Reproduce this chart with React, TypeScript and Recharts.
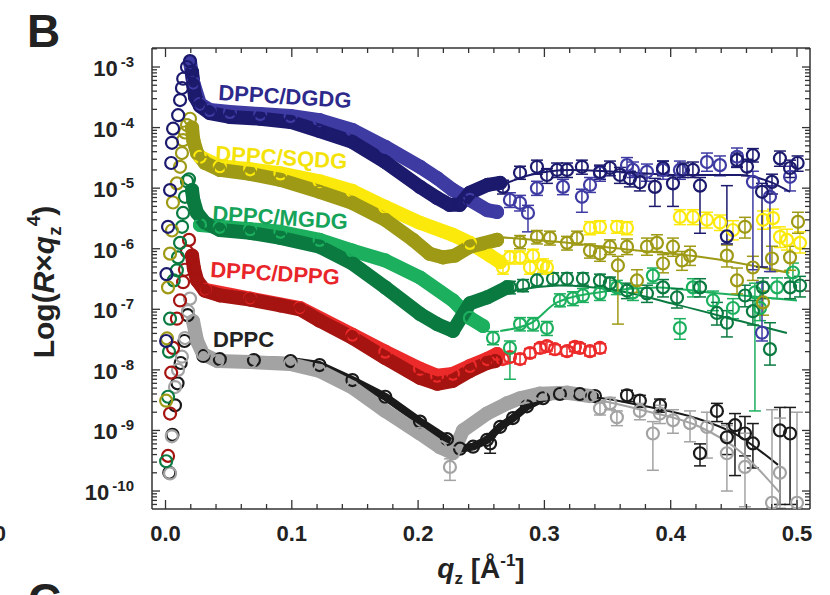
import React from "react";
import { ComposedChart, XAxis, YAxis, Line, Scatter, ErrorBar } from "recharts";

type Pt = [number, number];
type EPt = [number, number, number, number]; // q, R, low, high

const FONT = "'Liberation Sans', Arial, Helvetica, sans-serif";
const AX = "#333";

const qTicks = [0, 0.02, 0.04, 0.06, 0.08, 0.1, 0.12, 0.14, 0.16, 0.18, 0.2, 0.22, 0.24, 0.26, 0.28, 0.3, 0.32, 0.34, 0.36, 0.38, 0.4, 0.42, 0.44, 0.46, 0.48, 0.5];
const decades = [1e-11, 1e-10, 1e-9, 1e-8, 1e-7, 1e-6, 1e-5, 1e-4, 1e-3];
const Q_DOMAIN: [number, number] = [-0.0107, 0.5103];
const R_DOMAIN: [number, number] = [5.05e-11, 2.06e-3];

// ---------- DPPC ----------
const dppcRiseA: Pt[] = [[0.003, 2.0e-10], [0.0055, 8.5e-10], [0.0075, 2.6e-9], [0.0095, 6.0e-9], [0.012, 1.3e-8], [0.015, 3.0e-8], [0.0175, 8.0e-8]];
const dppcBandA: Pt[] = [[0.03, 1.7e-8], [0.043, 1.5e-8], [0.07, 1.45e-8], [0.099, 1.4e-8], [0.122, 1.2e-8], [0.148, 6.8e-9], [0.174, 3.6e-9], [0.2015, 1.4e-9], [0.2229, 7.2e-10], [0.2332, 5.0e-10], [0.2435, 5.4e-10], [0.2546, 7.0e-10], [0.265, 1.15e-9], [0.2751, 1.6e-9], [0.2862, 2.5e-9], [0.2989, 3.4e-9], [0.3123, 4.0e-9], [0.3281, 4.0e-9], [0.34, 3.7e-9]];
const dppcTailA: EPt[] = [[0.257, 6.1e-10, 4.2e-10, 7.8e-10], [0.3654, 3.8e-9, 3.0e-9, 4.6e-9], [0.3756, 3.1e-9, 2.4e-9, 3.8e-9], [0.3915, 2.6e-9, 2.0e-9, 3.3e-9], [0.4232, 4.2e-10, 2.6e-10, 6.0e-10], [0.4366, 2.1e-9, 1.4e-9, 2.8e-9], [0.4445, 7.7e-10, 4.0e-10, 1.3e-9], [0.4509, 1.22e-9, 1.8e-10, 1.9e-9], [0.4588, 8.9e-10, 3.8e-10, 1.7e-9], [0.4651, 6.1e-10, 2.4e-10, 1.3e-9], [0.4865, 1.0e-9, 6.0e-11, 2.4e-9], [0.4945, 8.9e-10, 6.0e-11, 2.4e-9]];
const dppcFitA: Pt[] = [[0.3, 3.7e-9], [0.34, 3.5e-9], [0.38, 2.5e-9], [0.42, 1.6e-9], [0.45, 9.0e-10], [0.485, 2.7e-10]];
const dppcRiseB: Pt[] = [[0.0036, 1.95e-10], [0.005, 8.0e-10], [0.0075, 5.2e-9], [0.0099, 1.0e-8], [0.013, 1.65e-8], [0.0154, 3.35e-8], [0.0178, 9.3e-8], [0.0194, 1.5e-7]];
const dppcBandB: Pt[] = [[0.0218, 6.4e-8], [0.025, 3.0e-8], [0.0297, 1.83e-8], [0.041, 1.4e-8], [0.067, 1.35e-8], [0.0986, 1.25e-8], [0.122, 9.6e-9], [0.148, 5.1e-9], [0.174, 2.1e-9], [0.2015, 8.9e-10], [0.2173, 5.3e-10], [0.2276, 4.2e-10], [0.2355, 1.0e-9], [0.2546, 1.9e-9], [0.2704, 2.8e-9], [0.2807, 3.4e-9], [0.2965, 4.05e-9], [0.3179, 4.2e-9], [0.3361, 3.7e-9]];
const dppcTailB: EPt[] = [[0.2252, 2.5e-10, 1.5e-10, 3.4e-10], [0.344, 2.3e-9, 1.8e-9, 2.9e-9], [0.352, 2.8e-9, 2.2e-9, 3.5e-9], [0.3574, 1.65e-9, 1.2e-9, 2.1e-9], [0.3756, 2.1e-9, 1.5e-9, 2.8e-9], [0.3859, 8.9e-10, 2.2e-10, 1.4e-9], [0.3915, 1.9e-9, 1.3e-9, 2.6e-9], [0.4018, 1.47e-9, 9.0e-10, 2.2e-9], [0.4153, 1.32e-9, 6.5e-10, 2.1e-9], [0.4287, 1.14e-9, 3.5e-10, 2.0e-9], [0.4445, 4.2e-10, 1.0e-10, 1.2e-9], [0.4588, 2.5e-10, 5.5e-11, 9.0e-10], [0.4802, 6.4e-11, 5.2e-11, 2.2e-9], [0.4865, 2.0e-10, 5.2e-11, 1.6e-9], [0.5, 6.4e-11, 5.2e-11, 2.0e-9]];
const dppcFitB: Pt[] = [[0.3, 3.9e-9], [0.34, 3.2e-9], [0.38, 2.1e-9], [0.4232, 1.14e-9], [0.455, 4.5e-10], [0.4865, 9.3e-11]];

// ---------- DPPC/DPPG ----------
const dppgRiseA: Pt[] = [[0.002, 3.8e-10], [0.0036, 1.9e-9], [0.0045, 9.0e-9], [0.006, 2.3e-8], [0.009, 7.0e-8], [0.0115, 1.4e-7], [0.0139, 2.8e-7], [0.0154, 4.5e-7], [0.017, 9.0e-7], [0.0186, 1.4e-6]];
const dppgBandA: Pt[] = [[0.021, 7.7e-7], [0.0225, 4.7e-7], [0.025, 3.0e-7], [0.031, 2.04e-7], [0.043, 1.7e-7], [0.067, 1.45e-7], [0.091, 1.16e-7], [0.1065, 1.0e-7], [0.122, 6.5e-8], [0.148, 3.4e-8], [0.174, 1.57e-8], [0.2015, 7.4e-9], [0.215, 5.9e-9], [0.2276, 6.6e-9], [0.241, 9.6e-9], [0.2546, 1.3e-8], [0.261, 1.4e-8]];
const dppgBandB: Pt[] = [[0.0313, 2.1e-7], [0.067, 1.5e-7], [0.1065, 1.05e-7], [0.148, 3.8e-8], [0.174, 2.0e-8], [0.2015, 1.04e-8], [0.215, 8.0e-9], [0.2276, 8.6e-9], [0.241, 1.16e-8], [0.2546, 1.51e-8], [0.2625, 1.83e-8]];
const dppgTailB: EPt[] = [[0.267, 1.51e-8, 1.25e-8, 1.8e-8], [0.2727, 1.63e-8, 1.35e-8, 1.95e-8], [0.2807, 1.51e-8, 1.25e-8, 1.8e-8], [0.2886, 1.9e-8, 1.6e-8, 2.25e-8], [0.2965, 2.3e-8, 1.9e-8, 2.7e-8], [0.302, 2.47e-8, 2.05e-8, 2.9e-8], [0.3083, 2.2e-8, 1.8e-8, 2.6e-8], [0.3179, 2.04e-8, 1.7e-8, 2.4e-8], [0.3242, 2.4e-8, 2.0e-8, 2.85e-8], [0.3281, 2.3e-8, 1.9e-8, 2.7e-8], [0.3361, 2.04e-8, 1.7e-8, 2.4e-8], [0.344, 2.3e-8, 1.9e-8, 2.7e-8]];

// ---------- DPPC/MGDG ----------
const mgdgRiseA: Pt[] = [[0.0005, 3.1e-10], [0.002, 3.6e-9], [0.0028, 2.0e-8], [0.0036, 7.0e-8], [0.0065, 3.0e-7], [0.009, 4.4e-7], [0.0099, 7.2e-7], [0.0115, 1.25e-6], [0.0131, 2.3e-6], [0.0139, 3.9e-6], [0.0154, 7.2e-6], [0.017, 1.3e-5], [0.0186, 1.4e-5]];
const mgdgBandA: Pt[] = [[0.021, 9.3e-6], [0.022, 6.4e-6], [0.025, 3.9e-6], [0.0313, 2.68e-6], [0.043, 2.04e-6], [0.067, 1.83e-6], [0.091, 1.51e-6], [0.122, 1.08e-6], [0.148, 5.7e-7], [0.174, 2.3e-7], [0.2015, 8.4e-8], [0.215, 5.7e-8], [0.2276, 4.4e-8], [0.241, 1.25e-7], [0.2546, 1.57e-7], [0.2704, 2.3e-7]];
const mgdgTailA: EPt[] = [[0.2727, 2.3e-7, 1.8e-7, 2.9e-7], [0.2831, 2.47e-7, 1.95e-7, 3.1e-7], [0.2941, 3.0e-7, 2.4e-7, 3.8e-7], [0.3068, 3.2e-7, 2.5e-7, 4.0e-7], [0.3179, 3.2e-7, 2.5e-7, 4.0e-7], [0.3305, 3.2e-7, 2.5e-7, 4.0e-7], [0.344, 3.0e-7, 2.3e-7, 3.8e-7], [0.3519, 2.68e-7, 2.0e-7, 3.4e-7], [0.3654, 2.04e-7, 1.5e-7, 2.7e-7], [0.3812, 1.83e-7, 1.3e-7, 2.5e-7], [0.3939, 2.3e-7, 1.6e-7, 3.1e-7], [0.405, 1.57e-7, 1.05e-7, 2.2e-7], [0.4232, 2.3e-7, 1.6e-7, 3.2e-7], [0.4366, 8.7e-8, 5.5e-8, 1.3e-7], [0.4445, 6.0e-8, 3.5e-8, 9.5e-8], [0.4588, 1.69e-7, 1.1e-7, 2.5e-7], [0.4651, 9.3e-8, 5.5e-8, 1.4e-7], [0.4731, 2.3e-7, 1.5e-7, 3.3e-7], [0.4786, 2.2e-8, 1.2e-8, 6.0e-8], [0.4945, 2.3e-7, 1.5e-7, 3.3e-7], [0.5024, 2.47e-7, 1.6e-7, 3.5e-7]];
const mgdgFitA: Pt[] = [[0.265, 1.83e-7], [0.312, 2.47e-7], [0.357, 2.04e-7], [0.407, 1.16e-7], [0.455, 6.4e-8], [0.492, 4.05e-8]];
const mgdgBandB: Pt[] = [[0.0273, 2.47e-6], [0.043, 2.3e-6], [0.067, 2.1e-6], [0.091, 1.9e-6], [0.122, 1.4e-6], [0.148, 9.3e-7], [0.174, 6.4e-7], [0.2015, 3.35e-7], [0.2276, 1.4e-7], [0.241, 7.2e-8], [0.2514, 5.3e-8]];
const mgdgTailB: EPt[] = [[0.2593, 3.35e-8, 2.6e-8, 4.3e-8], [0.2727, 2.3e-8, 7.0e-9, 3.0e-8], [0.2807, 5.7e-8, 4.4e-8, 7.3e-8], [0.291, 5.7e-8, 4.4e-8, 7.3e-8], [0.302, 4.9e-8, 3.7e-8, 6.3e-8], [0.3123, 1.4e-7, 1.1e-7, 1.8e-7], [0.3226, 1.51e-7, 1.15e-7, 1.95e-7], [0.3305, 1.69e-7, 1.3e-7, 2.2e-7], [0.344, 1.83e-7, 1.4e-7, 2.4e-7], [0.3574, 2.3e-7, 1.75e-7, 3.0e-7], [0.3701, 1.9e-7, 1.4e-7, 2.5e-7], [0.3859, 3.6e-7, 2.7e-7, 4.8e-7], [0.4073, 4.9e-8, 3.2e-8, 7.0e-8], [0.4176, 2.3e-7, 1.6e-7, 3.2e-7], [0.4335, 1.4e-7, 9.5e-8, 2.0e-7], [0.4493, 1.05e-7, 7.0e-8, 1.5e-7], [0.4667, 1.9e-7, 2.1e-9, 2.7e-7], [0.4707, 1.05e-7, 6.5e-8, 1.6e-7], [0.4842, 2.3e-7, 1.5e-7, 3.3e-7], [0.4968, 4.05e-7, 2.8e-7, 5.8e-7]];
const mgdgFitB: Pt[] = [[0.265, 4.4e-8], [0.29, 6.0e-8], [0.31, 1.3e-7], [0.35, 2.0e-7], [0.39, 2.3e-7], [0.43, 1.9e-7], [0.47, 1.6e-7], [0.5, 1.4e-7]];

// ---------- DPPC/SQDG ----------
const sqdgRiseA: Pt[] = [[0.0005, 3.1e-9], [0.0012, 3.3e-8], [0.002, 2.3e-7], [0.0036, 8.3e-7], [0.0051, 2.0e-6], [0.0059, 5.8e-6], [0.009, 1.2e-5], [0.0115, 2.25e-5], [0.013, 3.8e-5], [0.0139, 6.2e-5], [0.0154, 8.3e-5], [0.017, 1.1e-4], [0.0194, 1.4e-4]];
const sqdgBandA: Pt[] = [[0.021, 1.0e-4], [0.022, 6.2e-5], [0.025, 3.8e-5], [0.0313, 2.6e-5], [0.043, 2.0e-5], [0.067, 1.72e-5], [0.091, 1.37e-5], [0.122, 8.7e-6], [0.148, 5.7e-6], [0.174, 3.0e-6], [0.196, 1.4e-6], [0.209, 8.3e-7], [0.2197, 7.2e-7], [0.229, 7.7e-7], [0.241, 1.08e-6], [0.2625, 1.4e-6]];
const sqdgTailA: EPt[] = [[0.2807, 1.3e-6, 1.0e-6, 1.65e-6], [0.2941, 1.57e-6, 1.2e-6, 2.0e-6], [0.3044, 1.51e-6, 1.15e-6, 1.95e-6], [0.3179, 1.25e-6, 9.5e-7, 1.6e-6], [0.3258, 1.51e-6, 1.15e-6, 1.95e-6], [0.3361, 9.3e-7, 7.0e-7, 1.2e-6], [0.344, 8.3e-7, 6.2e-7, 1.1e-6], [0.3519, 1.08e-6, 8.0e-7, 1.4e-6], [0.3582, 5.3e-7, 5.7e-8, 7.5e-7], [0.3654, 1.08e-6, 8.0e-7, 1.45e-6], [0.3733, 3.0e-7, 1.9e-7, 4.5e-7], [0.3812, 1.08e-6, 7.8e-7, 1.5e-6], [0.3891, 1.25e-6, 9.0e-7, 1.7e-6], [0.3939, 5.7e-7, 4.0e-7, 8.0e-7], [0.4018, 1.08e-6, 7.5e-7, 1.5e-6], [0.4089, 6.4e-7, 4.4e-7, 9.0e-7], [0.4153, 7.7e-7, 5.3e-7, 1.1e-6], [0.4445, 7.7e-7, 5.0e-7, 1.15e-6], [0.4525, 3.0e-7, 1.8e-7, 4.8e-7], [0.4588, 2.3e-6, 1.5e-6, 3.3e-6], [0.4651, 4.9e-7, 3.0e-7, 7.5e-7], [0.4731, 1.3e-7, 8.0e-8, 2.0e-7], [0.4802, 6.9e-7, 4.2e-7, 1.1e-6], [0.4945, 7.2e-7, 4.4e-7, 1.1e-6], [0.5008, 2.78e-6, 1.8e-6, 4.0e-6]];
const sqdgFitA: Pt[] = [[0.265, 1.55e-6], [0.31, 1.3e-6], [0.37, 9.5e-7], [0.42, 7.5e-7], [0.46, 5.5e-7], [0.494, 4.0e-7]];
const sqdgBandB: Pt[] = [[0.0273, 3.3e-5], [0.043, 2.3e-5], [0.067, 2.05e-5], [0.091, 1.75e-5], [0.122, 1.3e-5], [0.148, 9.0e-6], [0.174, 4.9e-6], [0.2015, 2.68e-6], [0.2276, 1.69e-6], [0.241, 1.25e-6], [0.257, 7.7e-7], [0.265, 6.0e-7]];
const sqdgTailB: EPt[] = [[0.2672, 4.9e-7, 3.8e-7, 6.3e-7], [0.2727, 7.2e-7, 5.6e-7, 9.2e-7], [0.2807, 7.2e-7, 5.6e-7, 9.2e-7], [0.2886, 4.9e-7, 3.8e-7, 6.3e-7], [0.291, 7.7e-7, 6.0e-7, 9.8e-7], [0.2989, 5.3e-7, 4.1e-7, 6.8e-7], [0.302, 4.9e-7, 3.8e-7, 6.3e-7], [0.3361, 2.2e-6, 1.7e-6, 2.8e-6], [0.344, 2.3e-6, 1.8e-6, 2.9e-6], [0.3574, 2.3e-6, 1.8e-6, 2.9e-6], [0.3654, 2.2e-6, 1.7e-6, 2.8e-6], [0.4073, 3.35e-6, 2.5e-6, 4.4e-6], [0.4176, 3.35e-6, 2.5e-6, 4.4e-6], [0.4287, 3.0e-6, 2.2e-6, 4.0e-6], [0.439, 2.7e-6, 2.0e-6, 3.6e-6], [0.4493, 2.04e-6, 1.4e-6, 2.9e-6], [0.4731, 3.0e-6, 2.1e-6, 4.2e-6], [0.481, 3.2e-6, 2.2e-6, 4.5e-6], [0.4865, 1.57e-6, 1.05e-6, 2.3e-6], [0.4921, 1.4e-6, 9.5e-7, 2.1e-6], [0.5024, 1.25e-6, 8.5e-7, 1.9e-6]];

// ---------- DPPC/DGDG ----------
const dgdgRiseA: Pt[] = [[0.0005, 3.0e-8], [0.0008, 3.8e-7], [0.002, 2.3e-6], [0.0036, 9.3e-6], [0.0045, 2.6e-5], [0.0051, 5.6e-5], [0.006, 9.6e-5], [0.01, 1.6e-4], [0.0115, 2.85e-4], [0.013, 4.5e-4], [0.014, 6.4e-4], [0.017, 1.0e-3], [0.0194, 1.25e-3]];
const dgdgBandA: Pt[] = [[0.021, 8.3e-4], [0.022, 5.05e-4], [0.0234, 3.2e-4], [0.0273, 2.27e-4], [0.035, 1.74e-4], [0.051, 1.5e-4], [0.075, 1.4e-4], [0.099, 1.24e-4], [0.122, 8.8e-5], [0.148, 5.8e-5], [0.174, 2.7e-5], [0.2015, 1.05e-5], [0.215, 6.9e-6], [0.225, 5.3e-6], [0.233, 5.3e-6], [0.241, 8.4e-6], [0.255, 1.13e-5], [0.265, 1.22e-5]];
const dgdgTailA: EPt[] = [[0.2672, 1.05e-5, 8.0e-6, 1.35e-5], [0.2807, 1.8e-5, 1.4e-5, 2.3e-5], [0.2941, 2.25e-5, 1.7e-5, 2.9e-5], [0.302, 1.65e-5, 1.2e-5, 2.1e-5], [0.31, 2.0e-5, 1.5e-5, 2.6e-5], [0.3179, 2.0e-5, 1.5e-5, 2.6e-5], [0.3297, 2.25e-5, 1.7e-5, 2.9e-5], [0.344, 1.85e-5, 1.4e-5, 2.4e-5], [0.3519, 2.15e-5, 1.6e-5, 2.8e-5], [0.3598, 1.65e-5, 1.2e-5, 2.2e-5], [0.3677, 1.45e-5, 1.05e-5, 1.9e-5], [0.3756, 1.25e-5, 9.0e-6, 1.65e-5], [0.3875, 1.05e-5, 5.0e-6, 1.45e-5], [0.3939, 2.15e-5, 1.6e-5, 2.8e-5], [0.4018, 1.2e-5, 5.0e-6, 1.6e-5], [0.4097, 2.0e-5, 1.5e-5, 2.6e-5], [0.4176, 2.0e-5, 1.5e-5, 2.7e-5], [0.4232, 1.1e-5, 1.8e-6, 1.5e-5], [0.4445, 1.6e-6, 1.2e-6, 1.1e-5], [0.4525, 2.9e-5, 2.2e-5, 3.8e-5], [0.4604, 2.25e-5, 1.6e-5, 3.0e-5], [0.4651, 3.5e-5, 2.7e-5, 4.5e-5], [0.4723, 8.7e-6, 5.0e-7, 1.2e-5], [0.4802, 1.27e-5, 8.0e-6, 1.7e-5], [0.4865, 3.1e-5, 2.3e-5, 4.1e-5], [0.4945, 2.15e-5, 1.5e-5, 2.9e-5], [0.5005, 2.6e-5, 1.9e-5, 3.4e-5]];
const dgdgFitA: Pt[] = [[0.249, 9.3e-6], [0.265, 1.13e-5], [0.2886, 1.65e-5], [0.3203, 2.0e-5], [0.36, 1.86e-5], [0.4073, 1.65e-5], [0.455, 1.65e-5], [0.4786, 1.27e-5], [0.4945, 8.7e-6]];
const dgdgBandB: Pt[] = [[0.0194, 1.2e-3], [0.022, 5.5e-4], [0.0273, 2.45e-4], [0.035, 1.95e-4], [0.051, 1.81e-4], [0.075, 1.67e-4], [0.099, 1.55e-4], [0.122, 1.33e-4], [0.148, 9.1e-5], [0.174, 4.8e-5], [0.2015, 2.25e-5], [0.215, 1.47e-5], [0.2276, 9.3e-6], [0.241, 6.4e-6], [0.2546, 4.35e-6], [0.2625, 4.05e-6]];
const dgdgTailB: EPt[] = [[0.2727, 6.4e-6, 4.8e-6, 8.4e-6], [0.2807, 5.7e-6, 4.2e-6, 7.6e-6], [0.287, 3.9e-6, 1.9e-6, 5.2e-6], [0.2941, 1.0e-5, 7.6e-6, 1.3e-5], [0.3147, 1.05e-5, 7.8e-6, 1.4e-5], [0.3297, 7.2e-6, 4.0e-6, 9.6e-6], [0.3361, 1.13e-5, 8.5e-6, 1.5e-5], [0.344, 1.78e-5, 1.3e-5, 2.3e-5], [0.3654, 2.4e-5, 1.8e-5, 3.2e-5], [0.3701, 2.0e-5, 1.5e-5, 2.7e-5], [0.3812, 1.86e-5, 1.3e-5, 2.5e-5], [0.3939, 2.0e-5, 1.4e-5, 2.8e-5], [0.4073, 2.0e-5, 1.4e-5, 2.8e-5], [0.4287, 2.7e-5, 1.9e-5, 3.8e-5], [0.439, 2.4e-5, 1.6e-5, 3.4e-5], [0.4525, 3.3e-5, 2.3e-5, 4.6e-5], [0.4651, 1.27e-5, 4.5e-7, 1.9e-5], [0.4723, 4.1e-8, 3.0e-8, 2.8e-7], [0.4786, 7.2e-6, 4.2e-7, 1.1e-5], [0.4945, 1.54e-5, 9.0e-6, 2.3e-5]];

type Group = { color: string; rise?: Pt[]; band?: Pt[]; bandWidth?: number; tail?: EPt[]; fit?: Pt[] };

const groups: Group[] = [
  { color: "#1a1a1a", rise: dppcRiseA, band: dppcBandA, bandWidth: 8, tail: dppcTailA, fit: dppcFitA },
  { color: "#a3a3a3", rise: dppcRiseB, band: dppcBandB, tail: dppcTailB, fit: dppcFitB },
  { color: "#ec2a2a", band: dppgBandB, tail: dppgTailB },
  { color: "#a51410", rise: dppgRiseA, band: dppgBandA },
  { color: "#1cb05e", band: mgdgBandB, tail: mgdgTailB, fit: mgdgFitB },
  { color: "#0a7a40", rise: mgdgRiseA, band: mgdgBandA, tail: mgdgTailA, fit: mgdgFitA },
  { color: "#fbe90c", band: sqdgBandB, tail: sqdgTailB },
  { color: "#9e9a16", rise: sqdgRiseA, band: sqdgBandA, tail: sqdgTailA, fit: sqdgFitA },
  { color: "#3e3ba3", band: dgdgBandB, tail: dgdgTailB },
  { color: "#1c1a6d", rise: dgdgRiseA, band: dgdgBandA, tail: dgdgTailA, fit: dgdgFitA },
];

const rTicks = decades
  .flatMap((d) => [1, 2, 3, 4, 5, 6, 7, 8, 9].map((m) => m * d))
  .filter((v) => v >= R_DOMAIN[0] && v <= R_DOMAIN[1]);

const rows = (pts: Pt[]) => pts.map(([q, R]) => ({ q, R }));
const errRows = (pts: EPt[]) => pts.map(([q, R, lo, hi]) => ({ q, R, err: [R - lo, hi - R] }));

const ring = (color: string) => (p: any) =>
  p.cx == null || isNaN(p.cx) ? <g /> : <circle cx={p.cx} cy={p.cy} r={6} fill="none" stroke={color} strokeWidth={2.2} />;

const isMajorR = (v: number) => Math.abs(Math.log10(v) - Math.round(Math.log10(v))) < 1e-6;
const isMajorQ = (v: number) => Math.abs(v * 10 - Math.round(v * 10)) < 1e-6;

function LeftTick(p: any) {
  const { x, y, payload } = p;
  const v = payload.value;
  const major = isMajorR(v);
  return (
    <g>
      <line x1={x} y1={y} x2={x + (major ? 8 : 5)} y2={y} stroke={AX} strokeWidth={1.3} />
      {major && (
        <text x={x - 18} y={y + 9} textAnchor="end" fontFamily={FONT} fontWeight="bold" fontSize={22} fill="#222">
          10
          <tspan dx={3} dy={-9} fontSize={15}>
            {Math.round(Math.log10(v))}
          </tspan>
        </text>
      )}
    </g>
  );
}

function RightTick(p: any) {
  const { x, y, payload } = p;
  const major = isMajorR(payload.value);
  return <line x1={x} y1={y} x2={x - (major ? 8 : 5)} y2={y} stroke={AX} strokeWidth={1.3} />;
}

function BottomTick(p: any) {
  const { x, y, payload } = p;
  const v = payload.value;
  const major = isMajorQ(v);
  return (
    <g>
      <line x1={x} y1={y} x2={x} y2={y - (major ? 9 : 5)} stroke={AX} strokeWidth={1.3} />
      {major && (
        <text x={x} y={y + 32} textAnchor="middle" fontFamily={FONT} fontWeight="bold" fontSize={22} fill="#222">
          {v.toFixed(1)}
        </text>
      )}
    </g>
  );
}

function TopTick(p: any) {
  const { x, y, payload } = p;
  const major = isMajorQ(payload.value);
  return <line x1={x} y1={y} x2={x} y2={y + (major ? 9 : 5)} stroke={AX} strokeWidth={1.3} />;
}

const sampleLabels = [
  { text: "DPPC/DGDG", x: 218, y: 100, color: "#2d2a8c", rot: 3.5 },
  { text: "DPPC/SQDG", x: 215, y: 161, color: "#f3e30a", rot: 3.5 },
  { text: "DPPC/MGDG", x: 212, y: 221, color: "#16a35a", rot: 3.5 },
  { text: "DPPC/DPPG", x: 210, y: 277, color: "#e8262a", rot: 3.5 },
  { text: "DPPC", x: 213, y: 347, color: "#222", rot: 0 },
];

export default function App() {
  const axisLine = { stroke: AX, strokeWidth: 1.5 };
  const common = { xAxisId: "b", yAxisId: "l", isAnimationActive: false } as const;
  return (
    <div style={{ position: "absolute", left: 0, top: 0, width: 830, height: 595, background: "#fff" }}>
      <ComposedChart width={830} height={595} margin={{ top: 38, right: 0, bottom: 0, left: 0 }}>
        <XAxis xAxisId="b" type="number" dataKey="q" domain={Q_DOMAIN} allowDataOverflow ticks={qTicks} interval={0}
          tick={BottomTick} tickLine={false} tickSize={0} tickMargin={0} axisLine={axisLine} height={86} />
        <XAxis xAxisId="t" orientation="top" type="number" dataKey="q" domain={Q_DOMAIN} allowDataOverflow ticks={qTicks} interval={0}
          tick={TopTick} tickLine={false} tickSize={0} tickMargin={0} axisLine={axisLine} height={10} />
        <YAxis yAxisId="l" type="number" scale="log" dataKey="R" domain={R_DOMAIN} allowDataOverflow ticks={rTicks} interval={0}
          tick={LeftTick} tickLine={false} tickSize={0} tickMargin={0} axisLine={axisLine} width={152} />
        <YAxis yAxisId="r" orientation="right" type="number" scale="log" dataKey="R" domain={R_DOMAIN} allowDataOverflow ticks={rTicks} interval={0}
          tick={RightTick} tickLine={false} tickSize={0} tickMargin={0} axisLine={axisLine} width={20} />
        {groups.flatMap((g, i) => {
          const out: React.ReactNode[] = [];
          if (g.band)
            out.push(
              <Line key={`band${i}`} {...common} data={rows(g.band)} dataKey="R" type="linear" stroke={g.color}
                strokeWidth={g.bandWidth ?? 14} strokeLinejoin="round" strokeLinecap="round" dot={false} activeDot={false} />
            );
          const circles = [...(g.rise ?? []), ...(g.band ?? [])];
          if (circles.length)
            out.push(<Scatter key={`pts${i}`} {...common} data={rows(circles)} shape={ring(g.color)} />);
          if (g.tail)
            out.push(
              <Scatter key={`tail${i}`} {...common} data={errRows(g.tail)} shape={ring(g.color)}>
                <ErrorBar dataKey="err" direction="y" width={6} stroke={g.color} strokeWidth={1.5} isAnimationActive={false} />
              </Scatter>
            );
          if (g.fit)
            out.push(
              <Line key={`fit${i}`} {...common} data={rows(g.fit)} dataKey="R" type="monotone" stroke={g.color}
                strokeWidth={2} dot={false} activeDot={false} />
            );
          return out;
        })}
      </ComposedChart>
      <svg width={830} height={595} style={{ position: "absolute", left: 0, top: 0, pointerEvents: "none" }}>
        <text x={27} y={47} fontFamily={FONT} fontWeight="bold" fontSize={46} fill="#222">B</text>
        <text x={6} y={541} textAnchor="end" fontFamily={FONT} fontWeight="bold" fontSize={22} fill="#222">0</text>
        <text x={28} y={616} fontFamily={FONT} fontWeight="bold" fontSize={46} fill="#222">C</text>
        {sampleLabels.map((l) => (
          <text key={l.text} x={l.x} y={l.y} transform={`rotate(${l.rot} ${l.x} ${l.y})`} fontFamily={FONT}
            fontWeight="bold" fontSize={22} fill={l.color}>
            {l.text}
          </text>
        ))}
        <text transform="translate(54 282) rotate(-90)" textAnchor="middle" fontFamily={FONT} fontWeight="bold" fontSize={30} fill="#222">
          Log(<tspan fontStyle="italic">R</tspan>×<tspan fontStyle="italic">q</tspan>
          <tspan dy={7} fontSize={19}>z</tspan>
          <tspan dy={-21} fontSize={19}>4</tspan>
          <tspan dy={14}>)</tspan>
        </text>
        <text x={481} y={578} textAnchor="middle" fontFamily={FONT} fontWeight="bold" fontSize={28} fill="#222">
          <tspan fontStyle="italic">q</tspan>
          <tspan dy={6} fontSize={17}>z</tspan>
          <tspan dy={-6}> [Å</tspan>
          <tspan dy={-12} fontSize={17}>-1</tspan>
          <tspan dy={12}>]</tspan>
        </text>
      </svg>
    </div>
  );
}
